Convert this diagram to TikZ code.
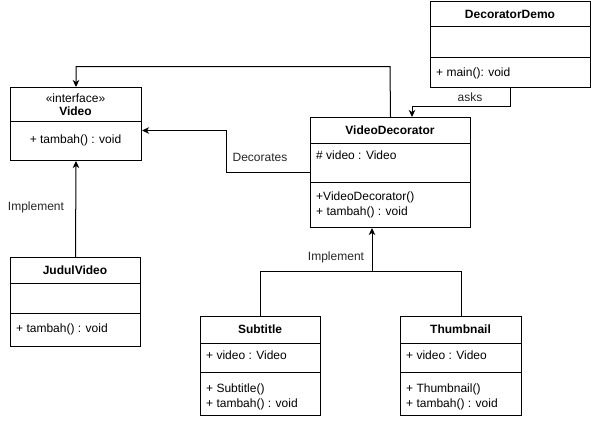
\documentclass[tikz,border=0pt]{standalone}
\usepackage{fontspec}
\setmainfont{Liberation Sans}
\usetikzlibrary{arrows.meta}
\begin{document}
\begin{tikzpicture}[x=1pt,y=-1pt,
  box/.style={draw, rectangle, inner sep=0, anchor=north west, line width=1pt},
  ttl/.style={font=\fontsize{12}{14}\selectfont\bfseries, inner sep=0},
  mem/.style={font=\fontsize{12}{14}\selectfont, inner sep=0, anchor=west},
  cmem/.style={font=\fontsize{12}{14}\selectfont, inner sep=0},
  lbl/.style={font=\fontsize{12}{14}\selectfont, inner sep=0, text=black!85},
  conn/.style={line width=1pt, -{Stealth[length=7pt,width=6.5pt,inset=2pt]}},
  line/.style={line width=1pt}]
\useasboundingbox (0,0) rectangle (591,420);

% DecoratorDemo
\node[box, minimum width=160pt, minimum height=86pt] (dd) at (430,1) {};
\node[box, minimum width=160pt, minimum height=25pt] (dd1) at (430,1) {};
\node[box, minimum width=160pt, minimum height=31pt] (dd2) at (430,26) {};
\node[ttl] (ddt) at (510,14) {DecoratorDemo};
\node[mem] (ddm) at (436,73) {+ main(): void};

% Video
\node[box, minimum width=131pt, minimum height=73pt] (v) at (10,87) {};
\node[box, minimum width=131pt, minimum height=34pt] (v1) at (10,87) {};
\node[cmem] (vs) at (75.5,98) {«interface»};
\node[ttl] (vt) at (75.5,111.5) {Video};
\node[cmem] (vm) at (75.5,140) {+ tambah() : void};

% VideoDecorator
\node[box, minimum width=160pt, minimum height=110pt] (vd) at (310,117) {};
\node[box, minimum width=160pt, minimum height=26pt] (vd1) at (310,117) {};
\node[box, minimum width=160pt, minimum height=39pt] (vd2) at (310,143) {};
\node[ttl] (vdt) at (390,130) {VideoDecorator};
\node[mem] (vda) at (316,155.5) {\# video : Video};
\node[mem] (vdm1) at (316,197) {+VideoDecorator()};
\node[mem] (vdm2) at (316,212) {+ tambah() : void};

% JudulVideo
\node[box, minimum width=130pt, minimum height=89pt] (jv) at (10,257) {};
\node[box, minimum width=130pt, minimum height=26pt] (jv1) at (10,257) {};
\node[box, minimum width=130pt, minimum height=30pt] (jv2) at (10,283) {};
\node[ttl] (jvt) at (75,270) {JudulVideo};
\node[mem] (jvm) at (16,329) {+ tambah() : void};

% Subtitle
\node[box, minimum width=120pt, minimum height=99pt] (st) at (200,316) {};
\node[box, minimum width=120pt, minimum height=27pt] (st1) at (200,316) {};
\node[box, minimum width=120pt, minimum height=29pt] (st2) at (200,343) {};
\node[ttl] (stt) at (260,329.5) {Subtitle};
\node[mem] (sta) at (206,355.5) {+ video : Video};
\node[mem] (stm1) at (206,389) {+ Subtitle()};
\node[mem] (stm2) at (206,404) {+ tambah() : void};

% Thumbnail
\node[box, minimum width=121pt, minimum height=99pt] (th) at (400,316) {};
\node[box, minimum width=121pt, minimum height=27pt] (th1) at (400,316) {};
\node[box, minimum width=121pt, minimum height=29pt] (th2) at (400,343) {};
\node[ttl] (tht) at (460.5,329.5) {Thumbnail};
\node[mem] (tha) at (406,355.5) {+ video : Video};
\node[mem] (thm1) at (406,389) {+ Thumbnail()};
\node[mem] (thm2) at (406,404) {+ tambah() : void};

% connectors
\coordinate (tp) at (390,66.5);
\draw[conn] (vd.north) -- (tp) -| (v.north);

\coordinate (dc) at (226,130.5);
\draw[conn] (vd.west) -- (vd.west -| dc) -- (dc) -- (dc -| v.east);
\node[lbl] (dcl) at (260,157) {Decorates};

\coordinate (ak) at (412,106.5);
\draw[conn] (dd.south) |- (ak) -- (ak |- vd.north);
\node[lbl] (akl) at (470,97) {asks};

\draw[conn] (jv.north) -- (v.south);
\node[lbl] (im1) at (36,207) {Implement};

\coordinate (jn) at (372,271);
\draw[line] (st.north) |- (th.north |- jn) -- (th.north);
\draw[conn] (jn) -- (jn |- vd.south);
\node[lbl] (im2) at (336,257) {Implement};
\end{tikzpicture}
\end{document}
